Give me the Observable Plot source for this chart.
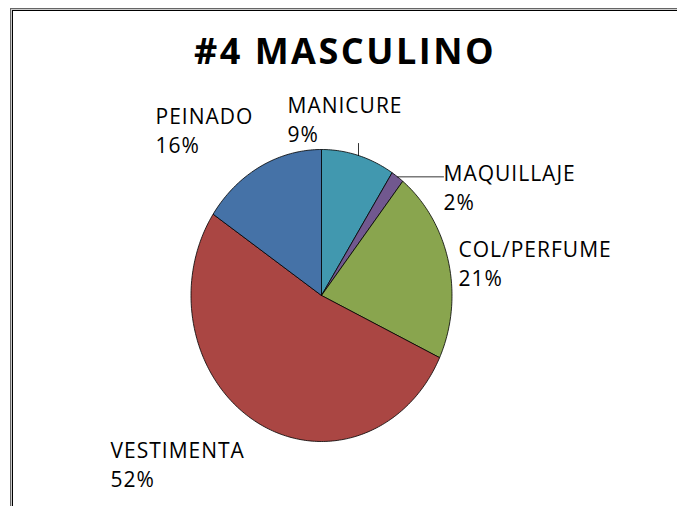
<!DOCTYPE html>
<html>
<head>
<meta charset="utf-8">
<script src="https://cdn.jsdelivr.net/npm/d3@7"></script>
<script src="https://cdn.jsdelivr.net/npm/@observablehq/plot@0.6"></script>
<style>
  html, body { margin: 0; padding: 0; background: #fff; }
  #wrap { position: relative; width: 677px; height: 506px; overflow: hidden; }
  #chart { position: absolute; left: 0; top: 0; }
  .bd { position: absolute; width: 800px; height: 700px; pointer-events: none; }
  .lbl text { letter-spacing: 1px; }
  .ttl text { letter-spacing: 2.5px; }
</style>
</head>
<body>
<div id="wrap">
  <div id="chart"></div>
  <div class="bd" style="left:10px;top:8px;border-left:1px solid #666;border-top:1px solid #666;"></div>
  <div class="bd" style="left:11px;top:9px;border-left:1px solid #ccc;border-top:1px solid #ccc;"></div>
  <div class="bd" style="left:12px;top:10px;border-left:1px solid #000;border-top:1px solid #000;"></div>
</div>
<script>
// ---- data ----
const title = "#4 MASCULINO";
const categories = ["MANICURE", "MAQUILLAJE", "COL/PERFUME", "VESTIMENTA", "PEINADO"];
const values = [9.1, 1.6, 21.3, 52.4, 15.6];
const percentLabels = ["9%", "2%", "21%", "52%", "16%"];
const colors = ["#4198AF", "#71588F", "#89A54E", "#AA4643", "#4572A7"];

// ---- layout (label top-left corners in pixels) ----
const labelPx = [[287, 92], [443, 160], [458, 236], [110, 437], [155, 103]];
const CX = 321, CY = 295, RX = 130.5, RY = 146;
const toX = px => (px - CX) / RX;
const toY = py => (CY - py) / RY;

// slices (clockwise from 12 o'clock)
const total = d3.sum(values);
let acc = 0;
const slices = categories.map((name, i) => {
  const a0 = acc / total * 2 * Math.PI;
  acc += values[i];
  const a1 = acc / total * 2 * Math.PI;
  return {name, a0, a1, mid: (a0 + a1) / 2, label: percentLabels[i], i};
});
const outline = [];
for (const s of slices) {
  outline.push({name: s.name, x: 0, y: 0});
  const n = Math.max(4, Math.ceil((s.a1 - s.a0) / (Math.PI / 180)));
  for (let k = 0; k <= n; k++) {
    const t = s.a0 + (s.a1 - s.a0) * k / n;
    outline.push({name: s.name, x: Math.sin(t), y: Math.cos(t)});
  }
  outline.push({name: s.name, x: 0, y: 0});
}

const labelData = slices.map(s => ({
  text: s.name + "\n" + s.label,
  x: toX(labelPx[s.i][0]),
  y: toY(labelPx[s.i][1])
}));

// leader lines
const maq = slices[1];
const leaders = [
  {id: 0, x: toX(358), y: Math.sqrt(1 - toX(358) ** 2)},
  {id: 0, x: toX(358), y: toY(143)},
  {id: 1, x: Math.sin(maq.mid), y: Math.cos(maq.mid)},
  {id: 1, x: toX(443), y: Math.cos(maq.mid)}
];

const plot = Plot.plot({
  width: 677,
  height: 506,
  margin: 0,
  style: {background: "transparent", fontFamily: "'Open Sans', sans-serif"},
  x: {domain: [-1, 1], range: [CX - RX, CX + RX], axis: null},
  y: {domain: [-1, 1], range: [CY + RY, CY - RY], axis: null},
  color: {domain: categories, range: colors},
  marks: [
    Plot.line(outline, {x: "x", y: "y", z: "name", fill: "name", stroke: "#000", strokeWidth: 0.8, strokeLinejoin: "round", curve: "linear"}),
    Plot.line(leaders, {x: "x", y: "y", z: "id", stroke: "#000", strokeWidth: 0.8}),
    Plot.text(labelData, {x: "x", y: "y", text: "text", textAnchor: "start", lineAnchor: "top", lineHeight: 1.38, fontSize: 21, fill: "#000", className: "lbl"}),
    Plot.text([title], {frameAnchor: "top", text: d => d, dx: 6, dy: 52, lineAnchor: "middle", fontSize: 36, fontWeight: "bold", fill: "#000", className: "ttl"})
  ]
});
document.getElementById("chart").appendChild(plot);
</script>
</body>
</html>
